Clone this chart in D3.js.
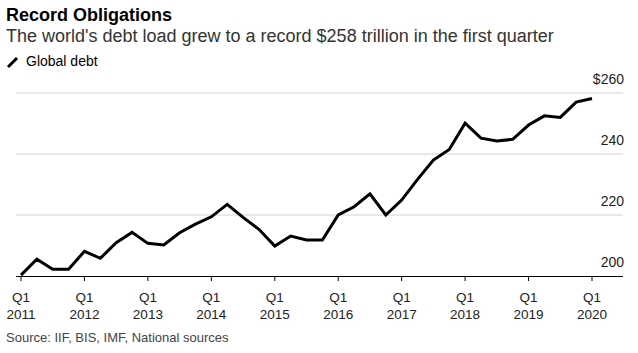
<!DOCTYPE html>
<html>
<head>
<meta charset="utf-8">
<script src="https://cdn.jsdelivr.net/npm/d3@7"></script>
<style>
html,body{margin:0;padding:0;background:#fff;}
svg{display:block;font-family:"Liberation Sans",Arial,sans-serif;}
</style>
</head>
<body>
<svg id="chart" width="638" height="353"></svg>
<script>
const quarters = ["Q1 2011","Q2 2011","Q3 2011","Q4 2011","Q1 2012","Q2 2012","Q3 2012","Q4 2012",
"Q1 2013","Q2 2013","Q3 2013","Q4 2013","Q1 2014","Q2 2014","Q3 2014","Q4 2014",
"Q1 2015","Q2 2015","Q3 2015","Q4 2015","Q1 2016","Q2 2016","Q3 2016","Q4 2016",
"Q1 2017","Q2 2017","Q3 2017","Q4 2017","Q1 2018","Q2 2018","Q3 2018","Q4 2018",
"Q1 2019","Q2 2019","Q3 2019","Q4 2019","Q1 2020"];
const globalDebt = [200.3,205.5,202.2,202.2,208.1,205.8,210.9,214.3,
210.7,210.2,214.2,217.0,219.4,223.5,219.2,215.3,
209.8,213.1,211.8,211.8,220.0,222.7,226.9,220.0,
224.9,231.7,238.0,241.5,250.1,245.2,244.3,244.8,
249.5,252.5,252.0,257.0,258.2];
const yTicks = [200,220,240,260];
const yTickLabels = ["200","220","240","$260"];
const xTickYears = ["2011","2012","2013","2014","2015","2016","2017","2018","2019","2020"];

(function(){
const svg = d3.select("#chart");
const mLeft = 16, mRight = 623, mTop = 93, mBottom = 276;

const x = d3.scaleLinear().domain([0, quarters.length - 1]).range([21, 592]);
const y = d3.scaleLinear().domain([200, 260]).range([mBottom, mTop]);

// Titles
svg.append("text").attr("x", 6).attr("y", 21).attr("font-size", 18).attr("font-weight", "bold")
  .attr("fill", "#000").text("Record Obligations");
svg.append("text").attr("x", 6).attr("y", 42).attr("font-size", 18).attr("fill", "#333")
  .text("The world's debt load grew to a record $258 trillion in the first quarter");
// Legend
svg.append("line").attr("x1", 8).attr("y1", 67).attr("x2", 17).attr("y2", 58)
  .attr("stroke", "#000").attr("stroke-width", 3).attr("stroke-linecap", "butt");
svg.append("text").attr("x", 26).attr("y", 66).attr("font-size", 14).attr("fill", "#000").text("Global debt");

// Gridlines
const g = svg.append("g");
g.selectAll("line.grid").data(yTicks.filter(d => d !== 200)).enter().append("line")
  .attr("x1", mLeft).attr("x2", mRight).attr("y1", d => y(d)).attr("y2", d => y(d))
  .attr("stroke", "#e2e2e2").attr("stroke-width", 1.5);
g.selectAll("text.ylab").data(yTicks).enter().append("text")
  .attr("x", mRight + 1).attr("y", d => y(d) - 9).attr("text-anchor", "end")
  .attr("font-size", 14).attr("fill", "#222")
  .text((d, i) => yTickLabels[i]);

// Line
const line = d3.line().x((d, i) => x(i)).y(d => y(d));
svg.append("path").datum(globalDebt).attr("d", line).attr("fill", "none")
  .attr("stroke", "#000").attr("stroke-width", 3).attr("stroke-linejoin", "miter");

// X axis
svg.append("line").attr("x1", mLeft).attr("x2", mRight).attr("y1", mBottom + 0.5).attr("y2", mBottom + 0.5)
  .attr("stroke", "#000").attr("stroke-width", 1);
const tickIdx = xTickYears.map((yr, i) => i * 4);
const xt = svg.append("g");
xt.selectAll("line").data(tickIdx).enter().append("line")
  .attr("x1", d => x(d)).attr("x2", d => x(d)).attr("y1", mBottom).attr("y2", mBottom + 5)
  .attr("stroke", "#000").attr("stroke-width", 1);
xt.selectAll("text.q").data(tickIdx).enter().append("text")
  .attr("x", d => x(d)).attr("y", 302).attr("text-anchor", "middle").attr("font-size", 13.5).attr("fill", "#222")
  .text("Q1");
xt.selectAll("text.yr").data(xTickYears).enter().append("text")
  .attr("x", (d, i) => x(i * 4)).attr("y", 319).attr("text-anchor", "middle").attr("font-size", 13.5).attr("fill", "#222")
  .text(d => d);

// Source
svg.append("text").attr("x", 6).attr("y", 342).attr("font-size", 13).attr("fill", "#444")
  .text("Source: IIF, BIS, IMF, National sources");
})();
</script>
</body>
</html>
